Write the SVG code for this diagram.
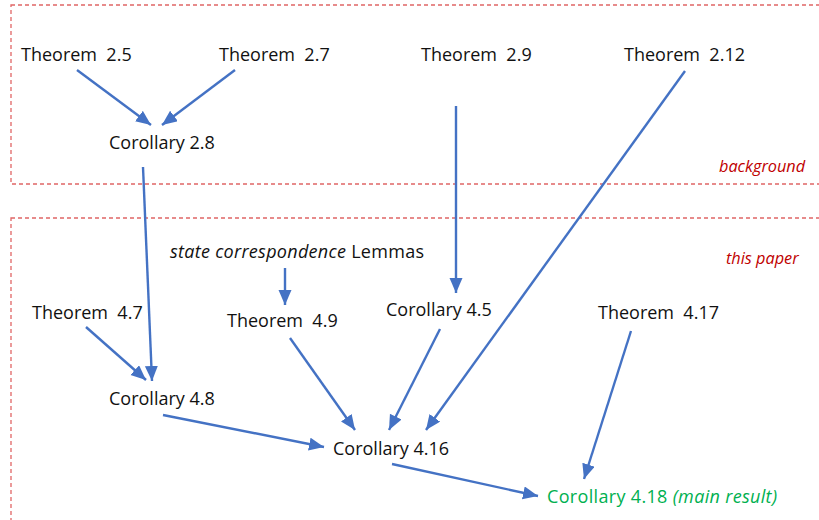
<svg xmlns="http://www.w3.org/2000/svg" width="819" height="520" viewBox="0 0 819 520">
<defs>
<style>
text{font-family:"Open Sans","Noto Sans",sans-serif;font-size:18px;fill:#111;white-space:pre}
.lbl{font-size:16.3px;font-style:italic;fill:#c00000}
.it{font-style:italic}
.main{fill:#00b050}
.box{fill:none;stroke:#e06666;stroke-width:1.3;stroke-dasharray:4 3}
.conn line{stroke:#4472c4;stroke-width:2.4;marker-end:url(#ah)}
</style>
<marker id="ah" markerUnits="userSpaceOnUse" markerWidth="16" markerHeight="14" refX="15" refY="6.5" orient="auto">
<path d="M0,0 L15,6.5 L0,13 z" fill="#4472c4"/>
</marker>
</defs>
<g id="regions">
<rect class="box" x="11" y="5" width="830" height="179"/>
<rect class="box" x="11" y="218" width="830" height="330"/>
<text class="lbl" x="719" y="172">background</text>
<text class="lbl" x="726" y="264">this paper</text>
</g>
<g id="conn" class="conn">
<line x1="77" y1="70" x2="151" y2="125"/>
<line x1="235" y1="70" x2="162" y2="125"/>
<line x1="143" y1="167" x2="152" y2="381"/>
<line x1="456" y1="106" x2="456" y2="293"/>
<line x1="685" y1="71" x2="426" y2="430"/>
<line x1="285" y1="268" x2="285" y2="305"/>
<line x1="86" y1="327" x2="146" y2="380"/>
<line x1="290" y1="338" x2="355" y2="430"/>
<line x1="440" y1="329" x2="389" y2="430"/>
<line x1="163" y1="415" x2="324" y2="447"/>
<line x1="392" y1="464" x2="538" y2="496"/>
<line x1="631" y1="331" x2="584" y2="479"/>
</g>
<g id="t25"><text x="21" y="61" xml:space="preserve">Theorem  2.5</text></g>
<g id="t27"><text x="219" y="61" xml:space="preserve">Theorem  2.7</text></g>
<g id="t29"><text x="421" y="61" xml:space="preserve">Theorem  2.9</text></g>
<g id="t212"><text x="624" y="61" xml:space="preserve">Theorem  2.12</text></g>
<g id="c28"><text x="109" y="149">Corollary 2.8</text></g>
<g id="lemmas"><text x="170" y="258" textLength="254" lengthAdjust="spacing"><tspan class="it">state correspondence</tspan> Lemmas</text></g>
<g id="t47"><text x="32" y="319" xml:space="preserve">Theorem  4.7</text></g>
<g id="t49"><text x="227" y="327" xml:space="preserve">Theorem  4.9</text></g>
<g id="c45"><text x="386" y="316">Corollary 4.5</text></g>
<g id="t417"><text x="598" y="319" xml:space="preserve">Theorem  4.17</text></g>
<g id="c48"><text x="109" y="405">Corollary 4.8</text></g>
<g id="c416"><text x="333" y="455">Corollary 4.16</text></g>
<g id="c418"><text class="main" x="547" y="503" textLength="230" lengthAdjust="spacing">Corollary 4.18 <tspan class="it">(main result)</tspan></text></g>
</svg>
